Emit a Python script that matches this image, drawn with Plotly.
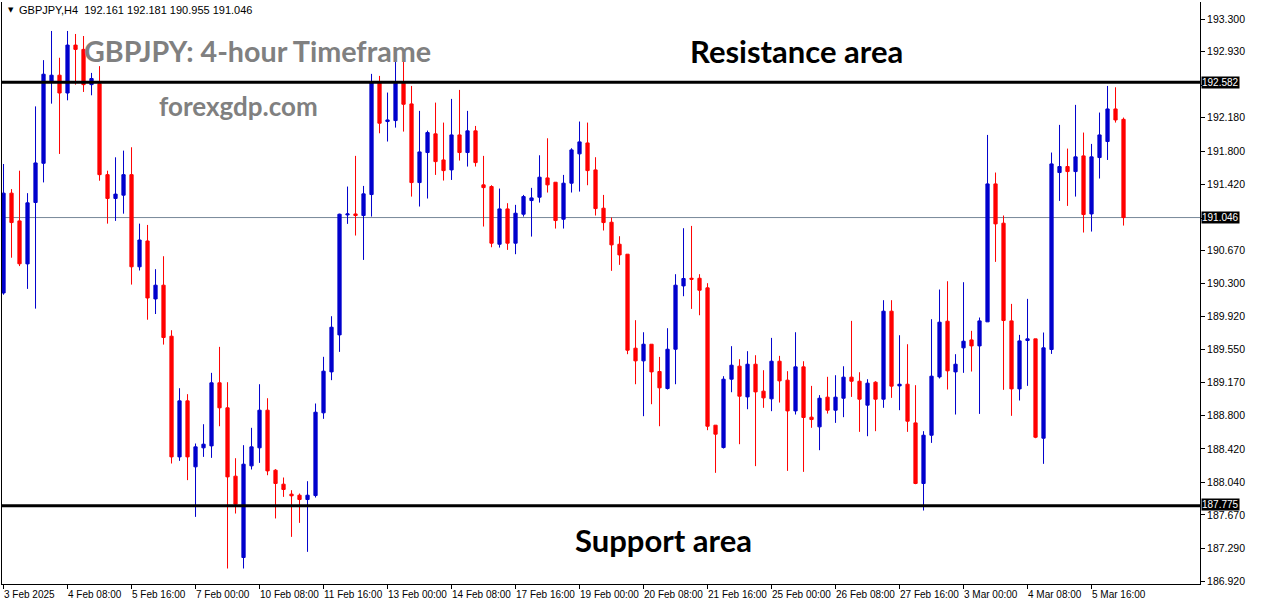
import plotly.graph_objects as go

opens = [190.19,191.323,191.008,190.52,191.217,191.662,192.586,192.662,192.46,193.004,
192.955,192.555,192.567,191.533,191.263,191.30,191.533,190.487,190.78,190.122,
190.278,189.699,188.329,188.965,188.216,188.432,188.454,189.17,188.886,188.11,
187.187,188.227,188.432,188.859,188.178,188.019,187.906,187.894,187.845,187.89,
188.829,189.294,189.714,191.076,191.087,191.069,191.307,192.578,192.136,192.147,
192.571,192.336,191.443,191.784,191.996,191.70,191.587,191.984,191.784,192.03,
191.417,191.398,190.743,191.144,190.755,191.084,191.239,191.277,191.496,191.447,
191.027,191.436,191.769,191.893,191.587,191.152,190.993,190.743,190.63,189.563,
189.419,189.608,189.298,189.105,189.551,190.27,190.357,190.357,190.248,188.689,
188.435,189.211,189.359,189.01,189.381,189.075,188.988,189.415,189.2,188.851,
189.351,188.78,188.67,189.007,188.859,188.995,189.234,189.188,188.916,189.177,
188.984,189.983,189.135,189.154,188.715,188.027,188.575,189.237,189.869,189.294,
189.567,189.657,189.589,189.862,191.428,190.982,189.873,189.101,189.65,189.669,
188.541,189.548,191.557,191.625,191.568,191.746,191.087,191.727,191.909,192.279,
192.161]
highs = [191.654,191.369,191.578,191.323,192.308,192.833,193.164,192.86,193.164,193.13,
193.107,192.688,192.765,191.578,191.73,191.806,191.844,190.977,190.962,190.46,
190.607,189.767,189.109,189.041,188.481,188.70,189.283,189.578,189.177,188.314,
188.462,188.659,189.154,188.995,188.19,188.095,187.951,187.913,188.053,188.935,
189.465,189.926,191.09,191.398,191.746,191.405,192.677,192.654,192.465,192.93,
192.88,192.54,192.257,192.033,192.351,192.124,192.393,192.495,192.257,192.086,
191.746,191.413,191.375,191.209,191.19,191.303,191.383,191.753,191.946,191.447,
191.53,191.833,192.136,192.124,191.731,191.303,191.046,190.834,190.63,189.881,
189.744,189.608,189.464,189.79,190.403,190.925,190.951,190.403,190.301,188.689,
189.245,189.586,189.438,189.529,189.483,189.313,189.68,189.476,189.302,189.744,
189.415,189.135,189.03,189.238,189.256,189.358,189.873,189.29,189.211,189.188,
190.108,190.108,189.71,189.608,189.143,188.621,189.892,190.229,190.323,189.495,
190.312,189.76,189.911,191.984,191.557,191.069,190.066,189.714,190.123,189.669,
189.741,191.784,192.098,191.829,192.325,192.011,191.882,192.238,192.54,192.525,
192.181]
lows = [190.17,190.59,190.495,190.236,190.012,191.445,192.339,191.768,192.377,192.555,
192.472,192.434,191.464,190.977,191.008,191.09,190.285,190.445,189.886,189.951,
189.604,188.254,188.284,188.065,187.648,188.329,188.318,188.677,187.062,187.686,
187.062,188.186,188.261,188.121,187.63,187.875,187.421,187.58,187.251,187.868,
188.761,189.20,189.521,190.974,190.842,190.565,191.057,192.003,191.909,192.067,
192.022,191.284,191.171,191.262,191.53,191.466,191.473,191.693,191.625,191.625,
190.944,190.709,190.705,190.679,190.63,191.057,190.83,191.216,191.33,190.921,
190.921,191.33,191.341,191.413,191.069,190.899,190.441,190.509,189.495,189.154,
188.791,188.927,188.677,189.094,189.154,190.153,190.009,189.937,188.632,188.148,
188.424,189.063,188.473,188.87,188.224,188.886,188.848,188.946,188.17,188.81,
188.159,188.659,188.405,188.821,188.715,188.78,189.01,188.613,188.564,188.621,
188.886,188.999,188.859,188.613,188.019,187.72,188.488,189.219,189.094,188.81,
189.283,189.298,188.817,189.862,190.543,189.09,188.795,188.969,189.135,188.541,
188.25,189.498,191.235,191.178,191.284,190.876,190.887,191.489,191.7,192.124,
190.955]
closes = [191.323,190.989,190.521,191.213,191.666,192.673,192.662,192.46,193.004,192.955,
192.555,192.624,191.533,191.263,191.312,191.533,190.487,190.791,190.133,190.278,
189.684,188.329,188.965,188.329,188.443,188.473,189.17,188.886,188.102,187.792,
188.246,188.443,188.859,188.170,188.027,187.959,187.887,187.845,187.894,188.836,
189.302,189.801,191.084,191.087,191.069,191.315,192.578,192.117,192.154,192.571,
192.332,191.443,191.791,192.011,191.681,191.579,191.984,191.784,192.03,191.67,
191.386,190.755,191.144,190.755,191.095,191.284,191.269,191.504,191.417,191.012,
191.436,191.814,191.905,191.579,191.148,190.989,190.736,190.622,189.54,189.419,
189.608,189.294,189.113,189.551,190.278,190.354,190.346,190.221,188.677,188.587,
189.211,189.37,189.018,189.381,189.067,188.999,189.415,189.192,188.851,189.351,
188.776,188.753,188.995,188.859,189.007,189.234,189.188,188.984,189.166,188.984,
189.983,189.132,189.154,188.734,188.027,188.575,189.245,189.858,189.306,189.381,
189.642,189.589,189.873,191.428,190.974,189.877,189.101,189.646,189.669,188.552,
189.567,191.655,191.625,191.568,191.735,191.08,191.735,191.984,192.279,192.154,
191.046]

tick_index = [0, 8, 16, 24, 32, 40, 48, 56, 64, 72, 80, 88, 96, 104, 112, 120, 128, 136]
tick_labels = ["3 Feb 2025", "4 Feb 08:00", "5 Feb 16:00", "7 Feb 00:00", "10 Feb 08:00",
               "11 Feb 16:00", "13 Feb 00:00", "14 Feb 08:00", "17 Feb 16:00", "19 Feb 00:00",
               "20 Feb 08:00", "21 Feb 16:00", "25 Feb 00:00", "26 Feb 08:00", "27 Feb 16:00",
               "3 Mar 00:00", "4 Mar 08:00", "5 Mar 16:00"]
price_ticks = [193.300, 192.930, 192.550, 192.180, 191.800, 191.420, 191.040, 190.670,
               190.300, 189.920, 189.550, 189.170, 188.800, 188.420, 188.040, 187.670,
               187.290, 186.920]
resistance = 192.582
support = 187.775
last_price = 191.046
header = "GBPJPY,H4  192.161 192.181 190.955 191.046"

BLUE = "#0000CD"
RED = "#FF0000"
W, H = 1276, 604
L, R, T, B = 2, 76, 2, 20
PW, PH = W - L - R, H - T - B


def px(x):
    return (x - L) / PW


def py(y):
    return (H - B - y) / PH


xs = list(range(len(opens)))
boxed = (resistance, last_price, support)
# labels hidden behind the price boxes
price_text = ["" if any(abs(v - b) < 0.05 for b in boxed) else f"{v:.3f}" for v in price_ticks]

fig = go.Figure()
fig.add_trace(go.Candlestick(
    x=xs, open=opens, high=highs, low=lows, close=closes,
    increasing=dict(line=dict(color=BLUE, width=1), fillcolor=BLUE),
    decreasing=dict(line=dict(color=RED, width=1), fillcolor=RED),
    whiskerwidth=0, hoverinfo="skip", showlegend=False,
))

shapes = [
    dict(type="line", xref="paper", yref="y", x0=0, x1=1, y0=last_price, y1=last_price,
         line=dict(color="#778899", width=1), layer="below"),
    dict(type="line", xref="paper", yref="y", x0=0, x1=1, y0=resistance, y1=resistance,
         line=dict(color="black", width=3)),
    dict(type="line", xref="paper", yref="y", x0=0, x1=1, y0=support, y1=support,
         line=dict(color="black", width=3)),
]

annotations = []
for k, lab in zip(tick_index, tick_labels):
    annotations.append(dict(x=k, xref="x", y=0, yref="paper", text=lab, showarrow=False,
                            xanchor="left", yanchor="top", xshift=-2, yshift=-3,
                            font=dict(family="Liberation Sans", size=10, color="black")))

for val in boxed:
    annotations.append(dict(x=1, xref="paper", y=val, yref="y", text=f"{val:.3f}",
                            showarrow=False, xanchor="left", yanchor="middle", xshift=1,
                            yshift=1 if val == support else 0,
                            bgcolor="black", borderpad=0,
                            font=dict(family="Liberation Sans", size=10, color="white")))

annotations += [
    dict(x=px(6), y=py(10), xref="paper", yref="paper", text="▼", showarrow=False,
         xanchor="left", yanchor="middle", font=dict(family="DejaVu Sans", size=7, color="black")),
    dict(x=px(17), y=py(10), xref="paper", yref="paper", text=header, showarrow=False,
         xanchor="left", yanchor="middle", font=dict(family="Liberation Sans", size=11, color="black")),
    dict(x=px(257), y=py(51), xref="paper", yref="paper", text="<b>GBPJPY: 4-hour Timeframe</b>",
         showarrow=False, xanchor="center", yanchor="middle",
         font=dict(family="Lato", size=28.7, color="#808080")),
    dict(x=px(238), y=py(106), xref="paper", yref="paper", text="<b>forexgdp.com</b>",
         showarrow=False, xanchor="center", yanchor="middle",
         font=dict(family="Lato", size=26, color="#808080")),
    dict(x=px(796), y=py(51), xref="paper", yref="paper", text="<b>Resistance area</b>",
         showarrow=False, xanchor="center", yanchor="middle",
         font=dict(family="Lato", size=31, color="black")),
    dict(x=px(663), y=py(540), xref="paper", yref="paper", text="<b>Support area</b>",
         showarrow=False, xanchor="center", yanchor="middle",
         font=dict(family="Lato", size=31, color="black")),
]

fig.update_layout(
    width=W, height=H, margin=dict(l=L, r=R, t=T, b=B),
    paper_bgcolor="white", plot_bgcolor="white",
    boxgap=0.42,
    shapes=shapes, annotations=annotations, showlegend=False,
    xaxis=dict(range=[-0.19, 149.56], rangeslider=dict(visible=False),
               showgrid=False, zeroline=False, showline=True, linecolor="black", linewidth=1,
               tickvals=tick_index, ticktext=[""] * len(tick_index), ticks="outside",
               ticklen=4, tickcolor="black", fixedrange=True),
    yaxis=dict(range=[186.886, 193.493], side="right", showgrid=False, zeroline=False,
               showline=True, mirror=True, linecolor="black", linewidth=1,
               tickvals=price_ticks, ticktext=price_text,
               ticks="outside", ticklen=4, tickcolor="black",
               tickfont=dict(family="Liberation Sans", size=10.5, color="black")),
)

fig.write_html("out.html")
